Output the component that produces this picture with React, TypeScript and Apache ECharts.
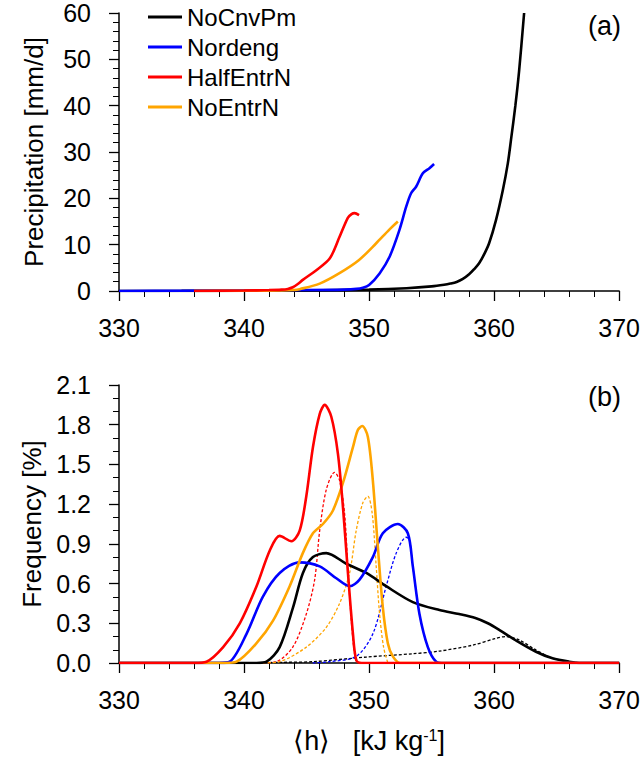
import React, { useEffect, useRef } from "react";
import * as echarts from "echarts";

// Panel (a): precipitation vs <h>
const blackA_x = [330, 335, 340, 345, 350, 353, 355, 356, 356.5, 357, 357.5, 358, 358.4, 358.8, 359.2, 359.6, 360.15, 360.7, 361.1, 361.35, 361.7, 362.0, 362.4];
const blackA_y = [0, 0.02, 0.05, 0.1, 0.3, 0.6, 1.0, 1.35, 1.6, 1.95, 2.6, 3.6, 4.7, 6.0, 7.9, 10.3, 15.3, 21.8, 27.6, 32.6, 40, 47.5, 60];
const blueA_x = [330, 335, 340, 345, 348, 349, 349.5, 350, 350.84, 351.64, 352.43, 352.97, 353.36, 353.76, 354.3, 354.83, 355.2];
const blueA_y = [0, 0.05, 0.15, 0.2, 0.3, 0.45, 0.7, 1.3, 3.8, 7.4, 13.2, 18.2, 21.1, 22.5, 25.4, 26.5, 27.4];
const redA_x = [336, 340, 342, 343, 343.5, 343.9, 344.3, 344.7, 345.78, 346.85, 347.64, 348.3, 348.6, 348.84, 349.2];
const redA_y = [0, 0.1, 0.2, 0.3, 0.45, 0.8, 1.5, 2.4, 4.5, 7.0, 11.7, 15.8, 16.6, 16.8, 16.4];
const orangeA_x = [336, 340, 343, 344, 344.45, 346.05, 347.6, 349.2, 350.57, 351.6, 352.3];
const orangeA_y = [0, 0.05, 0.1, 0.2, 0.4, 1.6, 3.8, 6.7, 10.3, 13.2, 15.0];

// Panel (b): frequency distributions (solid)
const redB_x = [330, 336, 337.0, 338.33, 339.66, 341.0, 342.06, 342.85, 343.79, 344.45, 344.98, 345.51, 346.05, 346.45, 346.98, 347.51, 347.91, 348.31, 348.71, 348.98, 349.4, 370];
const redB_y = [0, 0, 0.01, 0.12, 0.30, 0.58, 0.85, 0.96, 0.92, 1.00, 1.26, 1.63, 1.88, 1.95, 1.86, 1.58, 1.18, 0.68, 0.22, 0.02, 0, 0];
const orangeB_x = [330, 338.5, 339.4, 341.0, 342.32, 343.65, 344.7, 345.51, 346.31, 347.1, 347.91, 348.71, 349.1, 349.45, 349.9, 350.3, 350.7, 351.1, 351.5, 351.9, 352.5, 370];
const orangeB_y = [0, 0, 0.01, 0.15, 0.32, 0.58, 0.83, 0.98, 1.05, 1.15, 1.36, 1.63, 1.76, 1.79, 1.71, 1.38, 0.88, 0.42, 0.15, 0.05, 0, 0];
const blueB_x = [330, 338, 338.86, 340.2, 341.5, 342.85, 344.45, 346.05, 347.38, 348.44, 349.24, 350.3, 351.1, 352.3, 353.1, 353.5, 354.03, 354.7, 355.37, 356, 370];
const blueB_y = [0, 0, 0.01, 0.22, 0.50, 0.68, 0.76, 0.73, 0.64, 0.58, 0.63, 0.80, 0.98, 1.05, 0.98, 0.73, 0.37, 0.12, 0.01, 0, 0];
const blackB_x = [330, 341, 341.8, 342.85, 343.92, 344.71, 345.51, 346.58, 348.18, 349.78, 351.37, 353.5, 355.63, 357.2, 358.5, 359.5, 360.5, 361.75, 363.35, 364.67, 366.0, 367, 370];
const blackB_y = [0, 0, 0.01, 0.12, 0.42, 0.68, 0.80, 0.83, 0.75, 0.68, 0.58, 0.46, 0.40, 0.37, 0.34, 0.30, 0.245, 0.17, 0.085, 0.035, 0.01, 0, 0];

// Panel (b): dashed curves
const blackD_x = [340, 343, 345.5, 349.78, 353.5, 355.63, 358.3, 360.15, 360.95, 362.0, 363.35, 364.67, 366.0, 367];
const blackD_y = [0, 0.005, 0.01, 0.045, 0.07, 0.09, 0.135, 0.186, 0.2, 0.174, 0.098, 0.035, 0.01, 0];
const redD_x = [341.5, 342.6, 343.9, 344.98, 345.65, 346.05, 346.58, 347.24, 347.64, 348.04, 348.3, 348.58, 348.84, 349.1];
const redD_y = [0, 0.01, 0.12, 0.37, 0.63, 1.00, 1.31, 1.44, 1.38, 1.13, 0.73, 0.32, 0.07, 0];
const orangeD_x = [341.5, 342.85, 344.98, 346.58, 347.64, 348.44, 348.97, 349.5, 349.9, 350.25, 350.57, 350.84, 351.16, 351.5];
const orangeD_y = [0, 0.01, 0.12, 0.27, 0.45, 0.68, 1.00, 1.21, 1.26, 1.13, 0.73, 0.37, 0.12, 0];
const blueD_x = [345.5, 346.85, 348.97, 350.3, 351.37, 352.17, 352.97, 353.23, 353.5, 354.03, 354.7, 355.37, 356];
const blueD_y = [0, 0.01, 0.05, 0.22, 0.58, 0.83, 0.95, 0.93, 0.73, 0.37, 0.12, 0.01, 0];

const names = ["NoCnvPm", "Nordeng", "HalfEntrN", "NoEntrN"];
const colors = ["#000000", "#0000ff", "#ff0000", "#ffa500"];
const xTicks = { min: 330, max: 370, interval: 10 };
const yA = { min: 0, max: 60, interval: 10 };
const yB = { min: 0, max: 2.1, interval: 0.3 };

const FONT = "Liberation Sans, Arial, Helvetica, sans-serif";
const pairs = (xs: number[], ys: number[]) => xs.map((x, i) => [x, ys[i]]);

export default function App() {
  const ref = useRef<HTMLDivElement>(null);
  useEffect(() => {
    document.body.style.margin = "0";
    const chart = echarts.init(ref.current!, null, { renderer: "svg" });

    const axisCommon = {
      type: "value" as const,
      axisLine: { show: true, lineStyle: { color: "#000", width: 1.5 } },
      axisTick: { show: true, inside: false, length: 10, lineStyle: { color: "#000", width: 1.3 } },
      splitLine: { show: false },
    };
    const xAxisDef = (gi: number, extra: any = {}) => ({
      ...axisCommon,
      gridIndex: gi,
      ...xTicks,
      minorTick: { show: true, splitNumber: 5, length: 6, lineStyle: { color: "#000", width: 1 } },
      axisLabel: { fontSize: 25, color: "#000", margin: 24, fontFamily: FONT },
      ...extra,
    });

    const solid = (name: string, color: string, data: number[][], gi: number, z = 2) => ({
      type: "line",
      name,
      xAxisIndex: gi,
      yAxisIndex: gi,
      data,
      smooth: 0.3,
      showSymbol: false,
      symbol: "none",
      color,
      lineStyle: { color, width: 2.6 },
      z,
    });
    const dashed = (name: string, color: string, data: number[][]) => ({
      type: "line",
      name,
      xAxisIndex: 1,
      yAxisIndex: 1,
      data,
      smooth: 0.3,
      showSymbol: false,
      symbol: "none",
      color,
      lineStyle: { color, width: 1.3, type: [3, 2] },
      z: 1,
    });

    chart.setOption({
      animation: false,
      backgroundColor: "#fff",
      textStyle: { fontFamily: FONT },
      grid: [
        { left: 119, top: 13, width: 501, height: 278 },
        { left: 119, top: 385, width: 501, height: 278 },
      ],
      xAxis: [
        xAxisDef(0),
        xAxisDef(1, {
          name: "{n|⟨h⟩   [kJ kg}{s|-1}{n|]}",
          nameLocation: "middle",
          nameGap: 64,
          nameTextStyle: {
            color: "#000",
            rich: {
              n: { fontSize: 27, color: "#000", fontFamily: FONT },
              s: { fontSize: 16, color: "#000", fontFamily: FONT, verticalAlign: "top", padding: [0, 0, 10, 0] },
            },
          },
        }),
      ],
      yAxis: [
        {
          ...axisCommon,
          gridIndex: 0,
          ...yA,
          minorTick: { show: true, splitNumber: 5, length: 6, lineStyle: { color: "#000", width: 1 } },
          axisLabel: { fontSize: 25, color: "#000", margin: 28, fontFamily: FONT },
          name: "Precipitation [mm/d]",
          nameLocation: "middle",
          nameGap: 72,
          nameTextStyle: { fontSize: 26, color: "#000", fontFamily: FONT },
        },
        {
          ...axisCommon,
          gridIndex: 1,
          ...yB,
          minorTick: { show: true, splitNumber: 3, length: 6, lineStyle: { color: "#000", width: 1 } },
          axisLabel: {
            fontSize: 25,
            color: "#000",
            margin: 28,
            fontFamily: FONT,
            formatter: (v: number) => v.toFixed(1),
          },
          name: "Frequency [%]",
          nameLocation: "middle",
          nameGap: 72,
          nameTextStyle: { fontSize: 26, color: "#000", fontFamily: FONT },
        },
      ],
      legend: {
        data: names,
        orient: "vertical",
        left: 148,
        top: 5,
        padding: 0,
        icon: "rect",
        itemWidth: 34,
        itemHeight: 3,
        itemGap: 6,
        textStyle: { fontSize: 24, color: "#000", fontFamily: FONT },
      },
      graphic: [
        { type: "text", left: 588, top: 12, style: { text: "(a)", fontSize: 27, fill: "#000", fontFamily: FONT } },
        { type: "text", left: 588, top: 383, style: { text: "(b)", fontSize: 27, fill: "#000", fontFamily: FONT } },
      ],
      series: [
        solid(names[0], colors[0], pairs(blackA_x, blackA_y), 0),
        solid(names[1], colors[1], pairs(blueA_x, blueA_y), 0),
        solid(names[3], colors[3], pairs(orangeA_x, orangeA_y), 0),
        solid(names[2], colors[2], pairs(redA_x, redA_y), 0),
        dashed("NoCnvPm dashed", colors[0], pairs(blackD_x, blackD_y)),
        dashed("Nordeng dashed", colors[1], pairs(blueD_x, blueD_y)),
        dashed("HalfEntrN dashed", colors[2], pairs(redD_x, redD_y)),
        dashed("NoEntrN dashed", colors[3], pairs(orangeD_x, orangeD_y)),
        solid(names[0] + " b", colors[0], pairs(blackB_x, blackB_y), 1, 3),
        solid(names[1] + " b", colors[1], pairs(blueB_x, blueB_y), 1, 3),
        solid(names[3] + " b", colors[3], pairs(orangeB_x, orangeB_y), 1, 3),
        solid(names[2] + " b", colors[2], pairs(redB_x, redB_y), 1, 3),
      ],
    });
    return () => chart.dispose();
  }, []);
  return <div ref={ref} style={{ width: 643, height: 762 }} />;
}
